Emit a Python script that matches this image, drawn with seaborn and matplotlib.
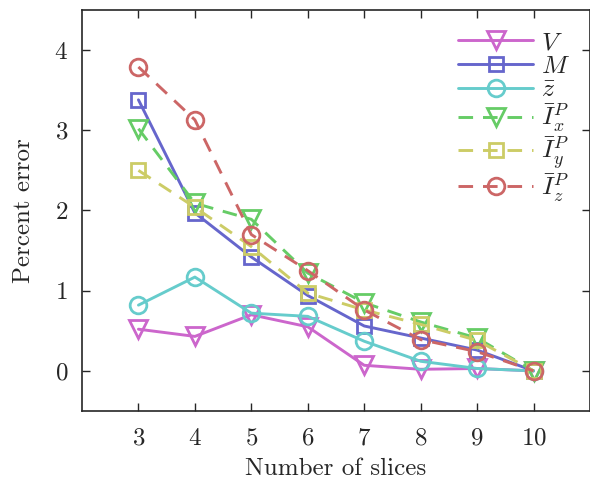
import matplotlib
matplotlib.use("Agg")
import matplotlib.pyplot as plt
import seaborn as sns
import numpy as np

slices = [3, 4, 5, 6, 7, 8, 9, 10]
V = [0.52, 0.43, 0.70, 0.55, 0.07, 0.02, 0.03, 0.0]
M = [3.38, 1.97, 1.42, 0.94, 0.56, 0.41, 0.26, 0.0]
zbar = [0.82, 1.17, 0.72, 0.68, 0.37, 0.12, 0.03, 0.0]
Ix = [3.02, 2.09, 1.89, 1.22, 0.85, 0.61, 0.41, 0.0]
Iy = [2.50, 2.04, 1.55, 0.97, 0.76, 0.58, 0.38, 0.0]
Iz = [3.79, 3.13, 1.70, 1.25, 0.76, 0.39, 0.24, 0.0]
labels = [r"$V$", r"$M$", r"$\bar{z}$", r"$\bar{I}_x^P$", r"$\bar{I}_y^P$", r"$\bar{I}_z^P$"]

sns.set_style("ticks")
plt.rcParams["font.family"] = ["cmr10", "DejaVu Serif"]
plt.rcParams["mathtext.fontset"] = "cm"
plt.rcParams["axes.formatter.use_mathtext"] = True

pal = sns.hls_palette(6, h=0.0, l=0.6, s=0.5)
colors = [pal[5], pal[4], pal[3], pal[2], pal[1], pal[0]]
markers = ["v", "s", "o", "v", "s", "o"]
msizes = [13, 10, 12, 13, 10, 12]
dashed = [False, False, False, True, True, True]
series = [V, M, zbar, Ix, Iy, Iz]

fig = plt.figure(figsize=(5.9, 4.86), dpi=100)
ax = fig.add_axes([82 / 590, 1 - 411 / 486, 1.0 - 82 / 590, (411 - 10) / 486])

for data, lab, c, m, ms, d in zip(series, labels, colors, markers, msizes, dashed):
    n0 = len(ax.lines)
    sns.lineplot(x=slices, y=data, ax=ax, color=c, marker=m, markersize=ms,
                 markerfacecolor="none", markeredgecolor=c, markeredgewidth=2.0,
                 linewidth=2.1, label=lab)
    if d:
        for ln in ax.lines[n0:]:
            ln.set_linestyle((0, (5, 3.4)))

ax.set_xlim(2, 11)
ax.set_ylim(-0.5, 4.5)
ax.set_xticks(slices)
ax.set_yticks([0, 1, 2, 3, 4])
ax.tick_params(direction="in", top=True, right=True, labelsize=18, length=6, width=1)
ax.tick_params(axis="x", pad=12)
ax.tick_params(axis="y", pad=10)
for s in ax.spines.values():
    s.set_linewidth(1.2)
ax.set_xlabel("Number of slices", fontsize=18, labelpad=6)
ax.set_ylabel("Percent error", fontsize=18, labelpad=14)
leg = ax.legend(loc="upper right", frameon=False, fontsize=18.5, handlelength=2.9,
                labelspacing=0.0, handletextpad=0.3, borderaxespad=0.4)
fig.savefig("out.png", dpi=100)
